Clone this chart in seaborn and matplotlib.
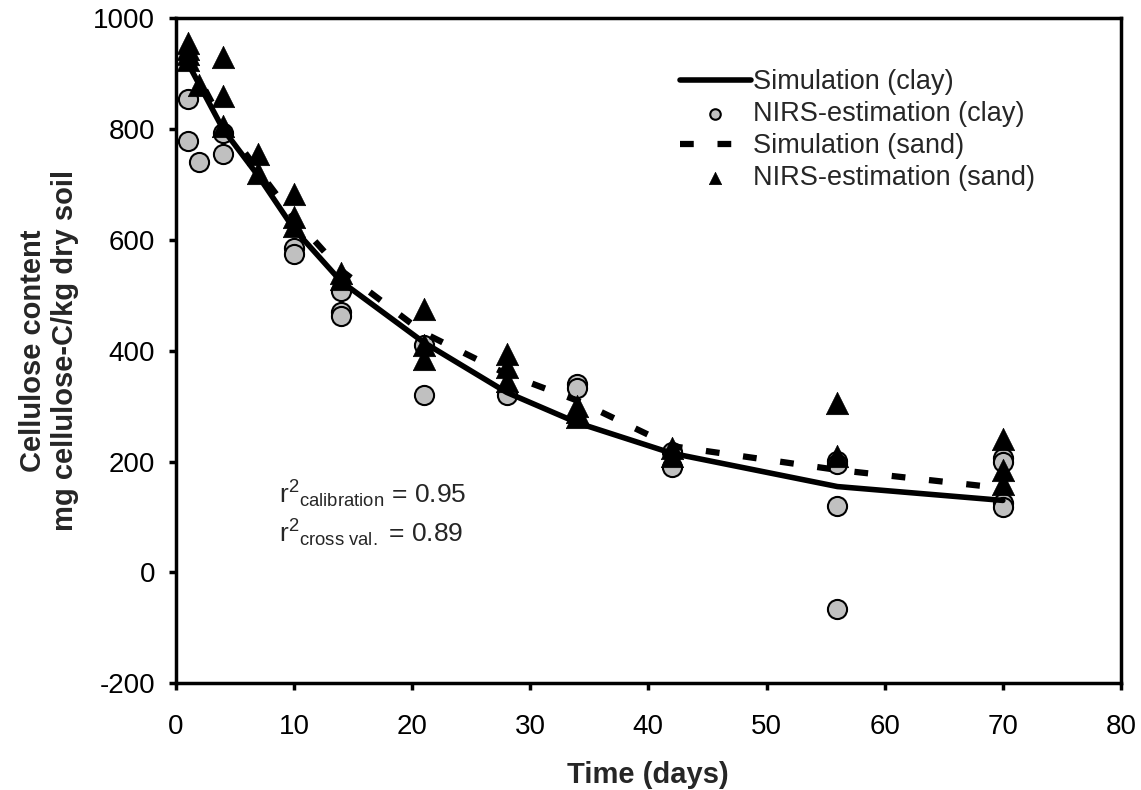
import pandas as pd
import matplotlib.pyplot as plt
import seaborn as sns

# Simulated cellulose content (lines)
sim_days = [1, 4, 7, 10, 14, 21, 28, 34, 42, 56, 70]
sim_clay = [920, 800, 715, 620, 525, 415, 325, 270, 215, 155, 130]
sim_sand = [930, 810, 725, 640, 545, 432, 358, 310, 228, 185, 152]

# NIRS estimations (clay, circles)
clay_days = [1, 1, 2, 4, 4, 10, 10, 14, 14, 14, 21, 21, 28, 34, 34, 42, 42,
             56, 56, 56, 56, 70, 70, 70, 70]
clay_vals = [855, 778, 740, 792, 755, 585, 575, 508, 470, 462, 410, 320, 320, 340, 332, 218, 190,
             202, 196, 120, -65, 206, 200, 125, 118]

# NIRS estimations (sand, triangles)
sand_days = [1, 1, 1, 1, 2, 4, 4, 4, 7, 7, 10, 10, 10, 14, 14, 21, 21, 21,
             28, 28, 28, 34, 34, 34, 42, 42, 56, 56, 70, 70, 70]
sand_vals = [955, 945, 935, 925, 880, 930, 860, 805, 755, 720, 682, 642, 625, 540, 530,
             475, 410, 385, 395, 370, 345, 300, 290, 280, 225, 210, 305, 210, 240, 185, 160]

sim = pd.DataFrame({"Day": sim_days, "Clay": sim_clay, "Sand": sim_sand})
clay = pd.DataFrame({"Day": clay_days, "Value": clay_vals})
sand = pd.DataFrame({"Day": sand_days, "Value": sand_vals})

sns.set_style("ticks")
plt.rcParams["font.family"] = ["Liberation Sans", "DejaVu Sans"]
plt.rcParams["axes.unicode_minus"] = False
plt.rcParams["mathtext.fontset"] = "custom"
plt.rcParams["mathtext.rm"] = "Liberation Sans"
plt.rcParams["mathtext.it"] = "Liberation Sans:italic"
plt.rcParams["mathtext.bf"] = "Liberation Sans:bold"

fig = plt.figure(figsize=(11.41, 7.90), dpi=100)
ax = fig.add_axes([0.154, 0.135, 0.8285, 0.842])

sns.lineplot(data=sim, x="Day", y="Clay", ax=ax, color="black", linewidth=4,
             label="Simulation (clay)", zorder=3)
sns.scatterplot(data=clay, x="Day", y="Value", ax=ax, marker="o", s=190, color="#c0c0c0",
                edgecolor="black", linewidth=1.5, label="NIRS-estimation (clay)", zorder=2)
sns.lineplot(data=sim, x="Day", y="Sand", ax=ax, color="black", linewidth=4.5,
             linestyle=(0, (2.2, 3.8)), label="Simulation (sand)", zorder=3)
sns.scatterplot(data=sand, x="Day", y="Value", ax=ax, marker="^", s=260, color="black",
                edgecolor="black", linewidth=0.5, label="NIRS-estimation (sand)", zorder=4)

ax.set_xlim(0, 80)
ax.set_ylim(-200, 1000)
ax.set_xticks(range(0, 81, 10))
ax.set_yticks(range(-200, 1001, 200))
ax.tick_params(axis="both", direction="out", length=5, width=2.5, labelsize=20,
               colors="black")
ax.tick_params(axis="x", pad=17)
ax.tick_params(axis="y", pad=10)
for s in ax.spines.values():
    s.set_visible(True)
    s.set_linewidth(2.5)
    s.set_color("black")

ax.set_xlabel("Time (days)", fontsize=21, fontweight="bold", labelpad=15)
ax.set_ylabel("Cellulose content\nmg cellulose-C/kg dry soil", fontsize=21, fontweight="bold",
              labelpad=10)

ax.text(8.7, 124, r"r$^{2}$$_{\rm calibration}$ = 0.95", fontsize=19)
ax.text(8.7, 54, r"r$^{2}$$_{\rm cross\ val.}$ = 0.89", fontsize=19)

leg = ax.legend(loc="upper right", bbox_to_anchor=(0.935, 0.96), frameon=False, fontsize=19.5,
                handlelength=2.6, handletextpad=0.1, labelspacing=0.22, markerscale=0.55)

plt.savefig("out.png", dpi=100)
